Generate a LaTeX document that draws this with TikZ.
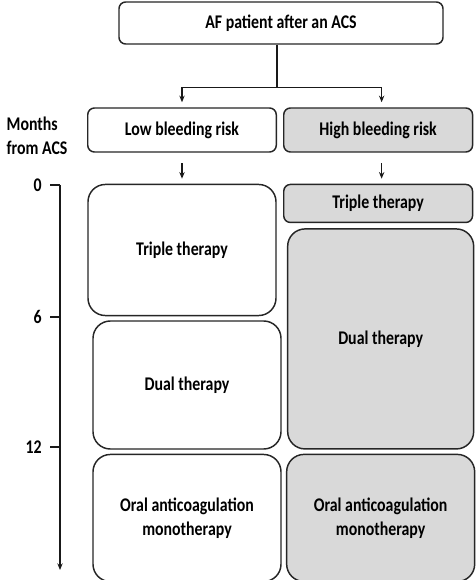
\documentclass[tikz,border=0pt]{standalone}
\usepackage{fontspec}
\setmainfont{Carlito}[FakeStretch=0.82]
\usetikzlibrary{arrows.meta,positioning,calc}
\definecolor{boxgray}{RGB}{217,217,217}

\begin{document}
\begin{tikzpicture}[x=0.75pt, y=-0.75pt, >={Stealth[length=5pt,width=4pt]},
  font=\bfseries\fontsize{14.5}{18}\selectfont,
  card/.style={draw=black!85, line width=1.1pt, rounded corners=5pt, fill=white, align=center, inner sep=2pt},
  phase/.style={card, rounded corners=13pt},
  grey/.style={fill=boxgray},
  link/.style={line width=0.9pt, draw=black!90}]
  \useasboundingbox (0,0) rectangle (475,580);

  % patient and risk groups
  \node[card, minimum width=243pt, minimum height=31.5pt] (patient) at (281,23) {AF patient after an ACS};
  \node[card, minimum width=141.4pt, minimum height=33pt] (low) at (182,130) {Low bleeding risk};
  \node[card, grey, minimum width=141.6pt, minimum height=33pt, right=4.5pt of low] (high) {High bleeding risk};
  \node[anchor=west, align=left] (months) at (2,136) {Months\\from ACS};

  % low bleeding risk course
  \node[phase, minimum width=141pt, minimum height=98.3pt, below=23.25pt of low] (lowtriple) {Triple therapy};
  \node[phase, minimum width=141pt, minimum height=96pt, below=3pt of lowtriple, xshift=3.75pt] (lowdual) {Dual therapy};
  \node[phase, minimum width=141pt, minimum height=95.3pt, below=3pt of lowdual] (loworal) {Oral anticoagulation\\monotherapy};

  % high bleeding risk course
  \node[card, grey, minimum width=141.6pt, minimum height=28.5pt, below=23.25pt of high] (hightriple) {Triple therapy};
  \node[phase, grey, minimum width=139.5pt, minimum height=165pt, below=3.75pt of hightriple, xshift=1.9pt] (highdual) {Dual therapy};
  \node[phase, grey, minimum width=141pt, minimum height=95.3pt, below=3pt of highdual] (highoral) {Oral anticoagulation\\monotherapy};

  % connectors
  \draw[link] (patient.south -| low.east) -- ++(0,43) coordinate (fork);
  \draw[link, ->, shorten >=3.75pt] (fork) -| (low.north);
  \draw[link, ->, shorten >=3.75pt] (fork) -| ($(high.north)+(3.5,0)$);
  \draw[link, ->, shorten <=8pt, shorten >=3.75pt] (low) -- (lowtriple);
  \draw[link, ->, shorten <=8pt, shorten >=3.75pt] ($(high.south)+(3.5,0)$) -- ($(hightriple.north)+(3.5,0)$);

  % time axis
  \coordinate (m0) at (60,185);
  \coordinate (m6) at (60,317);
  \coordinate (m12) at (60,447);
  \coordinate (mend) at (60,570);
  \draw[link, ->] (m0) -- (mend);
  \draw[link] (m0) -- ++(-10,0) node[left=2.5pt] (t0) {0};
  \draw[link] (m6) -- ++(-10,0) node[left=2.5pt] (t6) {6};
  \draw[link] (m12) -- ++(-10,0) node[left=2.5pt] (t12) {12};
\end{tikzpicture}
\end{document}
